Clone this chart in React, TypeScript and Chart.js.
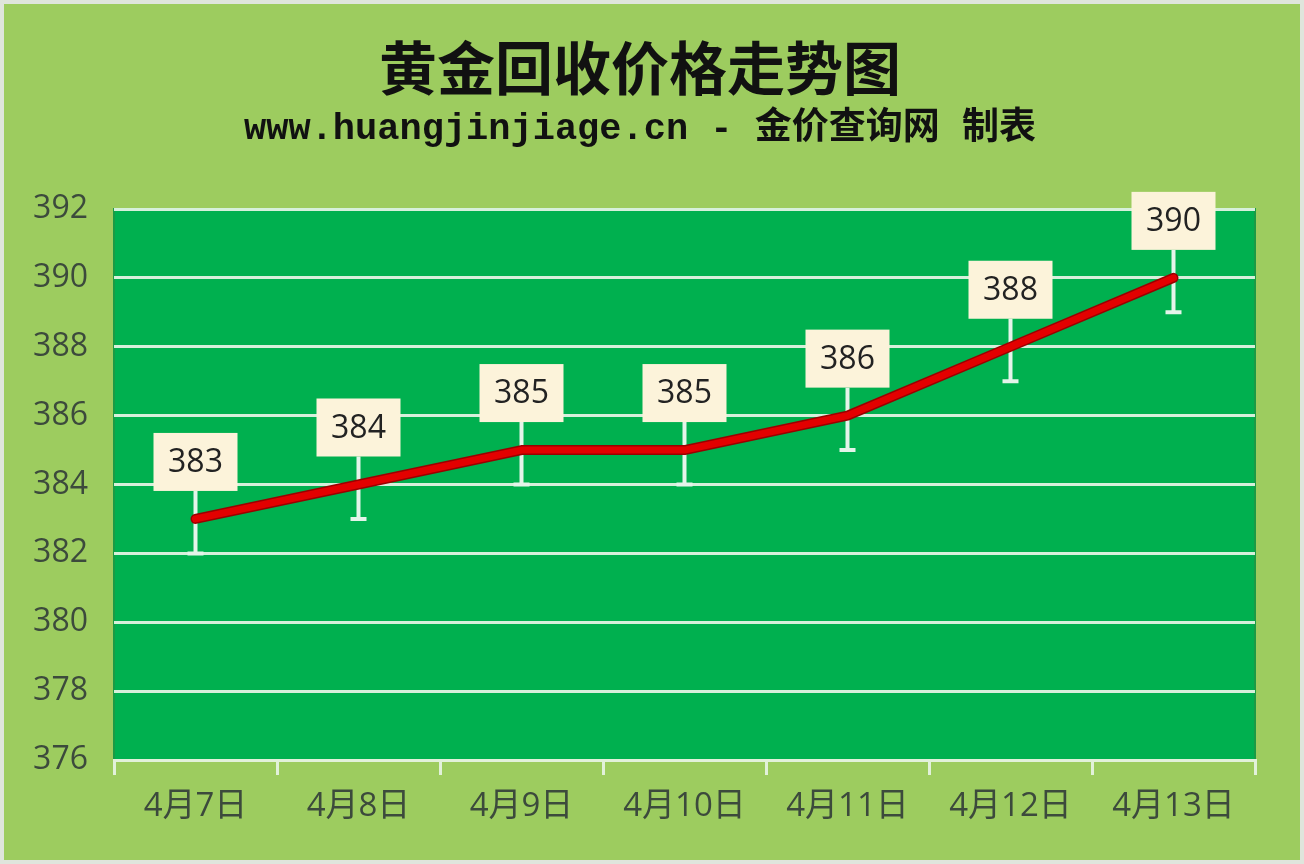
import { Chart, registerables } from "chart.js";
import { useRef, useEffect } from "react";

Chart.register(...registerables);

// Chart data
const dates = ["4月7日", "4月8日", "4月9日", "4月10日", "4月11日", "4月12日", "4月13日"];
const prices = [383, 384, 385, 385, 386, 388, 390];
// lower error bar length under each point
const errorMinus = [1, 1, 1, 1, 1, 1, 1];
const yMin = 376;
const yMax = 392;
const yStep = 2;

const titleText = "黄金回收价格走势图";
const subtitleText = "www.huangjinjiage.cn - 金价查询网 制表";

const decorPlugin = {
  id: "decor",
  beforeDraw(chart: any) {
    const { ctx, width, height, chartArea: a } = chart;
    ctx.save();
    ctx.fillStyle = "#dfe5dc";
    ctx.fillRect(0, 0, width, height);
    ctx.fillStyle = "#9dcc5f";
    ctx.fillRect(4, 4, width - 8, height - 8);
    ctx.fillStyle = "#00b04f";
    ctx.fillRect(a.left, a.top, a.right - a.left, a.bottom - a.top);
    ctx.strokeStyle = "#1b9a45";
    ctx.lineWidth = 2;
    ctx.strokeRect(a.left, a.top, a.right - a.left, a.bottom - a.top);
    ctx.restore();
  },
  // white error bars + leader lines, under the line
  beforeDatasetsDraw(chart: any) {
    const { ctx, scales } = chart;
    const x = scales.x;
    const y = scales.y;
    ctx.save();
    ctx.strokeStyle = "#e4f4ea";
    ctx.lineWidth = 4;
    prices.forEach((v, i) => {
      const px = x.getPixelForValue(i);
      const top = y.getPixelForValue(v) - 28;
      const bottom = y.getPixelForValue(v - errorMinus[i]);
      ctx.beginPath();
      ctx.moveTo(px, top);
      ctx.lineTo(px, bottom);
      ctx.moveTo(px - 8, bottom);
      ctx.lineTo(px + 8, bottom);
      ctx.stroke();
    });
    ctx.restore();
  },
  afterDatasetsDraw(chart: any) {
    const { ctx, scales } = chart;
    const x = scales.x;
    const y = scales.y;
    ctx.save();
    ctx.font = '32px "Open Sans", sans-serif';
    ctx.textAlign = "center";
    ctx.textBaseline = "middle";
    prices.forEach((v, i) => {
      const px = x.getPixelForValue(i);
      const bottom = y.getPixelForValue(v) - 28;
      const w = 84;
      const h = 58;
      ctx.fillStyle = "#fcf3da";
      ctx.fillRect(px - w / 2, bottom - h, w, h);
      ctx.fillStyle = "#222222";
      ctx.fillText(String(v), px, bottom - h / 2 + 1);
    });
    ctx.restore();
  },
};

export default function App() {
  const chartRef = useRef<HTMLCanvasElement | null>(null);

  useEffect(() => {
    if (!chartRef.current) return;
    const chart = new Chart(chartRef.current, {
      type: "line",
      data: {
        labels: dates,
        datasets: [
          {
            // bright red line on top
            data: prices,
            borderColor: "#e30000",
            borderWidth: 7,
            pointRadius: 0,
            tension: 0,
            borderCapStyle: "round",
            borderJoinStyle: "round",
            order: 1,
          },
          {
            // dark red edge under it
            data: prices,
            borderColor: "#9a0000",
            borderWidth: 10,
            pointRadius: 0,
            tension: 0,
            borderCapStyle: "round",
            borderJoinStyle: "round",
            order: 2,
          },
        ],
      },
      options: {
        animation: false,
        responsive: true,
        maintainAspectRatio: false,
        layout: { padding: { left: 25, right: 49, top: 0, bottom: 24 } },
        plugins: {
          legend: { display: false },
          tooltip: { enabled: false },
          title: {
            display: true,
            text: titleText,
            color: "#111111",
            font: { family: '"Noto Sans CJK SC"', size: 58, weight: "bold" },
            padding: { top: 33, bottom: 0 },
          },
          subtitle: {
            display: true,
            text: subtitleText,
            color: "#111111",
            font: { family: '"Liberation Mono", "Noto Sans CJK SC"', size: 37, weight: "bold" },
            padding: { top: 5, bottom: 57 },
          },
        },
        scales: {
          x: {
            offset: true,
            grid: {
              display: true,
              offset: true,
              drawOnChartArea: false,
              drawTicks: true,
              tickLength: 15,
              color: "#e2f1da",
              lineWidth: 3,
            },
            border: { display: true, color: "#e2f1da", width: 3 },
            ticks: {
              color: "#3c4a3c",
              padding: 12,
              font: { family: '"Open Sans", "Noto Sans CJK SC"', size: 33 },
            },
            afterFit: (s: any) => {
              s.height = 80;
            },
          },
          y: {
            min: yMin,
            max: yMax,
            grid: { color: "#d6f0db", lineWidth: 3, drawTicks: false },
            border: { display: false },
            ticks: {
              stepSize: yStep,
              color: "#3c4a3c",
              padding: 26,
              font: { family: '"Open Sans"', size: 32 },
            },
            afterFit: (s: any) => {
              s.width = 89;
            },
          },
        },
      },
      plugins: [decorPlugin],
    });
    return () => {
      chart.destroy();
    };
  }, []);

  return (
    <div style={{ position: "fixed", left: 0, top: 0, width: 1304, height: 864 }}>
      <canvas ref={chartRef}></canvas>
    </div>
  );
}
